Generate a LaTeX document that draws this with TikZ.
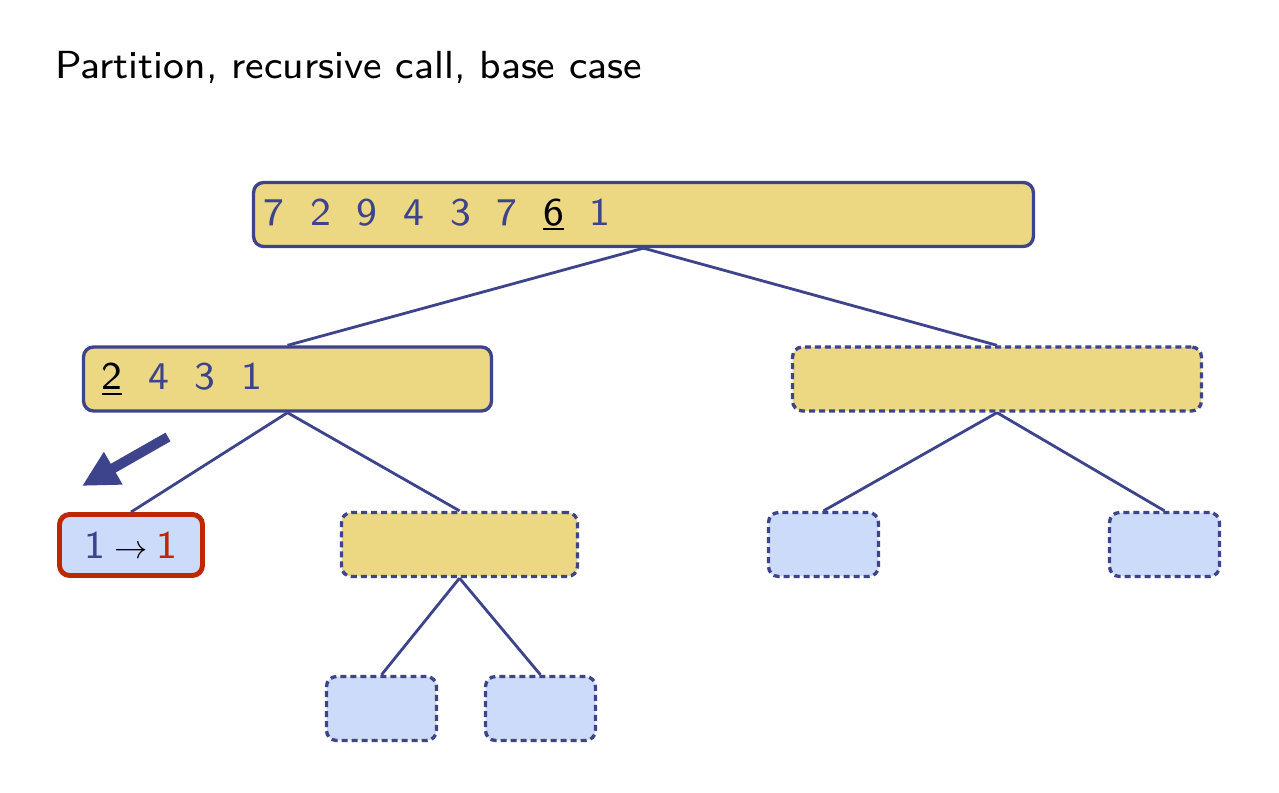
\RequirePackage{fix-cm}
\documentclass[tikz,border=0pt]{standalone}
\usepackage{fontspec}
\setsansfont{lmsans8-regular.otf}
\usetikzlibrary{arrows.meta}
\definecolor{treeblue}{RGB}{62,68,140}
\definecolor{boxyellow}{RGB}{236,215,131}
\definecolor{boxblue}{RGB}{205,219,250}
\definecolor{basered}{RGB}{190,40,0}
\newcommand{\dgap}{\hspace{14.7pt}}
\newcommand{\pivot}[1]{\textcolor{black}{\setbox0\hbox{#1}\rlap{\rule[-2.9pt]{\wd0}{1.1pt}}\box0}}
\tikzset{
  part/.style={draw=treeblue, fill=boxyellow, line width=1.9pt, rounded corners=0.2cm,
    minimum height=1.28cm, inner ysep=0pt, text=treeblue, align=left},
  later/.style={dash pattern=on 3.4pt off 2.3pt},
  leaf/.style={draw=treeblue, fill=boxblue, line width=1.9pt, rounded corners=0.2cm,
    minimum height=1.28cm, minimum width=2.2cm, later},
  edge/.style={draw=treeblue, line width=1.6pt}
}
\begin{document}
\begin{tikzpicture}[x=0.02cm,y=-0.02cm,font=\fontsize{22.3}{26}\selectfont\sffamily]
        \useasboundingbox (0,0) rectangle (1279,793);
        \node[anchor=base west, inner sep=0pt] (title) at (55,79) {Partition, recursive call, base case};

        \node[part, inner xsep=0.2cm, text width=15.2cm] (top) at (643.5,214.5)
            {7\dgap 2\dgap 9\dgap 4\dgap 3\dgap 7\dgap \pivot{6}\dgap 1};

        \node[part, inner xsep=0.36cm, text width=7.44cm] (l) at (287.5,379)
            {\pivot{2}\dgap 4\dgap 3\dgap 1};
        \node[part, later, minimum width=8.18cm] (r) at (997,379) {};

        \node[draw=basered, fill=boxblue, line width=2.8pt, rounded corners=0.2cm,
            minimum width=2.86cm, minimum height=1.22cm, text=treeblue] (ll) at (131,545)
            {1\hspace{5pt}\textcolor{black}{\scalebox{0.85}{$\rightarrow$}}\hspace{5pt}\textcolor{basered}{1}};
        \node[part, later, minimum width=4.72cm] (lr) at (459.5,544.5) {};
        \node[leaf] (rl) at (823.5,544.5) {};
        \node[leaf] (rr) at (1164.5,544.5) {};

        \node[leaf] (lrl) at (381.5,708.5) {};
        \node[leaf] (lrr) at (540.5,708.5) {};

        \draw[edge] (top.south)--(l.north);
        \draw[edge] (top.south)--(r.north);
        \draw[edge] (l.south)--(ll.north);
        \draw[edge] (l.south)--(lr.north);
        \draw[edge] (r.south)--(rl.north);
        \draw[edge] (r.south)--(rr.north);
        \draw[edge] (lr.south)--(lrl.north);
        \draw[edge] (lr.south)--(lrr.north);

        % the recursive call goes down to the left
        \coordinate (callstart) at (168,437);
        \coordinate (callend) at (82,486);
        \draw[treeblue, line width=5.7pt, -{Triangle[length=0.72cm,width=0.7cm]}] (callstart)--(callend);
    \end{tikzpicture}
\end{document}
